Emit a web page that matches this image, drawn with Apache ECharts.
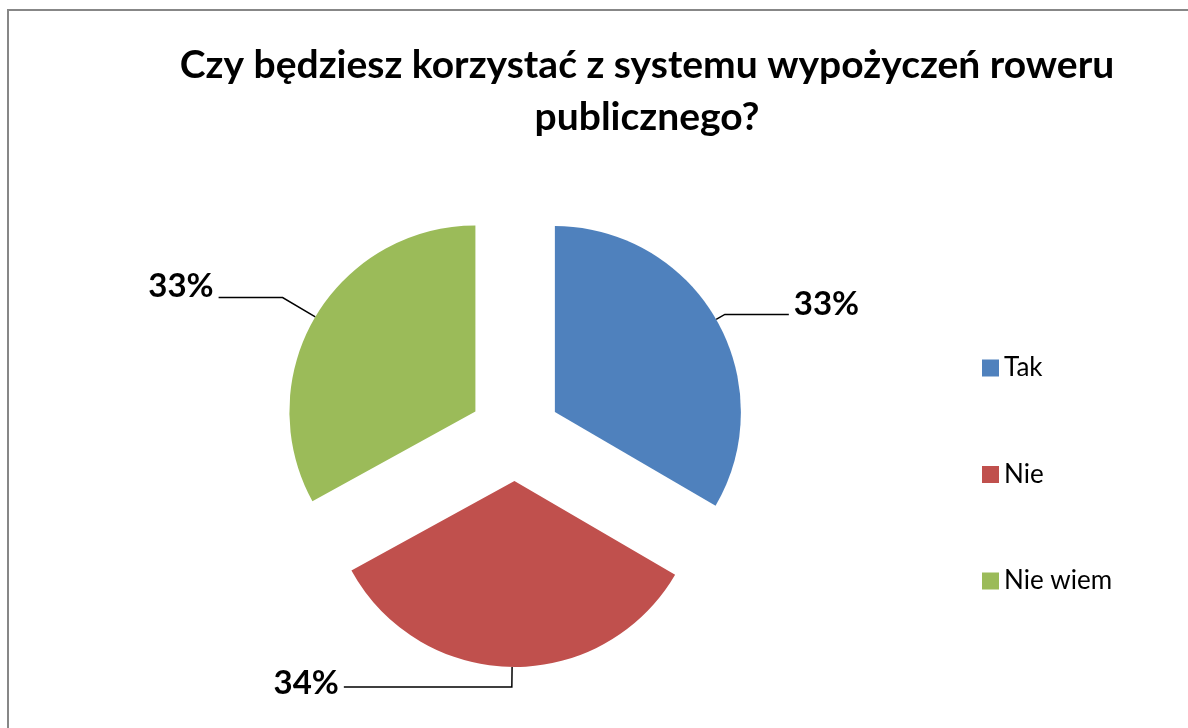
<!DOCTYPE html>
<html>
<head>
<meta charset="utf-8">
<title>Rower publiczny</title>
<script src="https://cdn.jsdelivr.net/npm/echarts@6/dist/echarts.min.js"></script>
<style>
  html, body { margin: 0; padding: 0; background: #fff; }
  #chart { width: 1188px; height: 728px; }
</style>
</head>
<body>
<div id="chart"></div>
<script>
// dane
const categories = ["Tak", "Nie", "Nie wiem"];
const values = [33.4, 33.6, 33.0];
const colors = ["#4F81BD", "#C0504D", "#9BBB59"];
// długości linii odniesienia dla etykiet (odcinek promieniowy, poziomy)
const lineLen = [10, 20, 38];
const lineLen2 = [64, 168, 64];
// etykieta lekko nad końcem linii
const labelLift = [10, 4, 11];

const chart = echarts.init(document.getElementById("chart"));

const pieData = categories.map((name, i) => ({
  name: name,
  value: values[i],
  selected: true,
  itemStyle: { color: colors[i] },
  labelLine: { length: lineLen[i], length2: lineLen2[i] }
}));

const option = {
  animation: false,
  backgroundColor: "#fff",
  graphic: [{
    type: "rect",
    shape: { x: 8, y: 10, width: 1300, height: 900 },
    style: { fill: "none", stroke: "#878787", lineWidth: 2 },
    silent: true
  }],
  title: {
    text: "Czy będziesz korzystać z systemu wypożyczeń roweru\npublicznego?",
    left: 642,
    top: 34,
    textAlign: "center",
    textStyle: {
      fontFamily: "Lato",
      fontWeight: "bold",
      fontSize: 39,
      lineHeight: 52,
      color: "#000"
    }
  },
  legend: {
    orient: "vertical",
    left: 977,
    top: 350,
    itemWidth: 17,
    itemHeight: 17,
    itemGap: 80.5,
    icon: "rect",
    data: categories,
    textStyle: {
      fontFamily: "Lato",
      fontSize: 26,
      color: "#000"
    }
  },
  series: [{
    type: "pie",
    center: [515, 435],
    radius: 186,
    startAngle: 90,
    clockwise: true,
    selectedMode: "multiple",
    selectedOffset: 46,
    avoidLabelOverlap: false,
    emphasis: { disabled: true },
    select: { itemStyle: { borderWidth: 0 } },
    label: {
      show: true,
      position: "outside",
      formatter: (p) => Math.round(p.value) + "%",
      fontFamily: "Lato",
      fontWeight: "bold",
      fontSize: 33,
      color: "#000",
      distanceToLabelLine: 5
    },
    labelLine: {
      show: true,
      lineStyle: { color: "#000", width: 1.5 }
    },
    labelLayout: (params) => ({ dy: -labelLift[params.dataIndex] }),
    data: pieData
  }]
};

chart.setOption(option);
</script>
</body>
</html>
